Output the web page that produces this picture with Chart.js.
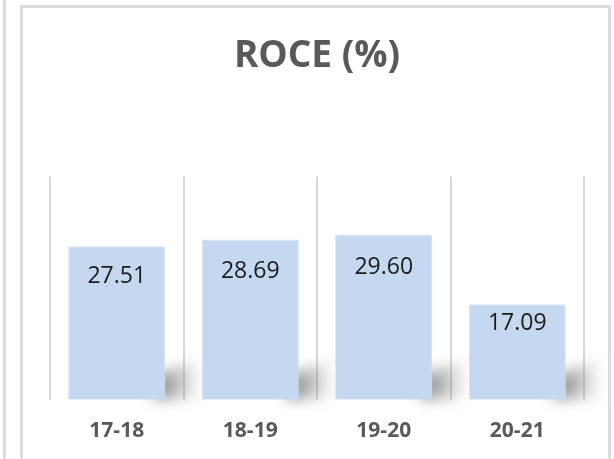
<!DOCTYPE html>
<html>
<head>
<meta charset="utf-8">
<script src="https://cdn.jsdelivr.net/npm/chart.js@4/dist/chart.umd.min.js"></script>
<style>
  html, body { margin: 0; padding: 0; background: #fff; }
  #wrap { position: relative; width: 614px; height: 459px; overflow: hidden; }
  #side { position: absolute; left: 3px; top: 0; width: 3px; height: 459px; background: #dcdcdc; }
  #frame { position: absolute; left: 20px; top: 5px; width: 591px; height: 470px; border: 3px solid #dcdcdc; box-sizing: border-box; }
  canvas { position: absolute; left: 0; top: 0; }
</style>
</head>
<body>
<div id="wrap">
  <div id="side"></div>
  <div id="frame"></div>
  <canvas id="roce" width="614" height="459"></canvas>
</div>
<script>
const years = ['17-18', '18-19', '19-20', '20-21'];
const roce = [27.51, 28.69, 29.60, 17.09];

// тень под столбцами (как в Excel)
const barShadow = {
  id: 'barShadow',
  beforeDatasetsDraw(chart) {
    const ctx = chart.ctx;
    const meta = chart.getDatasetMeta(0);
    ctx.save();
    ctx.filter = 'blur(7px)';
    meta.data.forEach(bar => {
      const right = bar.x + bar.width / 2;
      const base = bar.base;
      const g = ctx.createLinearGradient(right, 0, right + 36, 0);
      g.addColorStop(0, 'rgba(85,85,85,0.6)');
      g.addColorStop(0.5, 'rgba(110,110,110,0.32)');
      g.addColorStop(1, 'rgba(140,140,140,0)');
      ctx.fillStyle = g;
      ctx.beginPath();
      ctx.moveTo(right - 12, base);
      ctx.lineTo(right - 12, base - 24);
      ctx.lineTo(right + 34, base - 40);
      ctx.lineTo(right + 34, base - 2);
      ctx.closePath();
      ctx.fill();
    });
    ctx.restore();
  }
};

// подписи значений внутри столбцов
const valueLabels = {
  id: 'valueLabels',
  afterDatasetsDraw(chart) {
    const ctx = chart.ctx;
    const y = chart.scales.y;
    const meta = chart.getDatasetMeta(0);
    ctx.save();
    ctx.font = '23px "Open Sans"';
    ctx.fillStyle = '#1a1a1a';
    ctx.textAlign = 'center';
    ctx.textBaseline = 'middle';
    meta.data.forEach((bar, i) => {
      ctx.fillText(roce[i].toFixed(2), bar.x, y.getPixelForValue(roce[i] * 0.8));
    });
    ctx.restore();
  }
};

const ctx = document.getElementById('roce').getContext('2d');
window.roceChart = new Chart(ctx, {
  type: 'bar',
  data: {
    labels: years,
    datasets: [{
      label: 'ROCE (%)',
      data: roce,
      backgroundColor: '#c6d8ef',
      borderColor: '#d4e1f3',
      borderWidth: 1,
      categoryPercentage: 0.8,
      barPercentage: 0.91
    }]
  },
  options: {
    responsive: false,
    animation: false,
    layout: { padding: { left: 50, right: 30, top: 0, bottom: -4 } },
    plugins: {
      legend: { display: false },
      tooltip: { enabled: false },
      title: {
        display: true,
        text: 'ROCE (%)',
        color: '#595959',
        font: { family: '"Open Sans"', size: 37, weight: 'bold' },
        padding: { top: 34, bottom: 98 }
      }
    },
    scales: {
      x: {
        grid: { display: true, offset: true, color: '#d9d9d9', lineWidth: 2, drawTicks: false },
        border: { display: false },
        ticks: {
          color: '#595959',
          padding: 19,
          font: { family: '"Open Sans"', size: 21, weight: 'bold' }
        }
      },
      y: {
        display: false,
        min: 0,
        max: 40
      }
    }
  },
  plugins: [barShadow, valueLabels]
});
</script>
</body>
</html>
